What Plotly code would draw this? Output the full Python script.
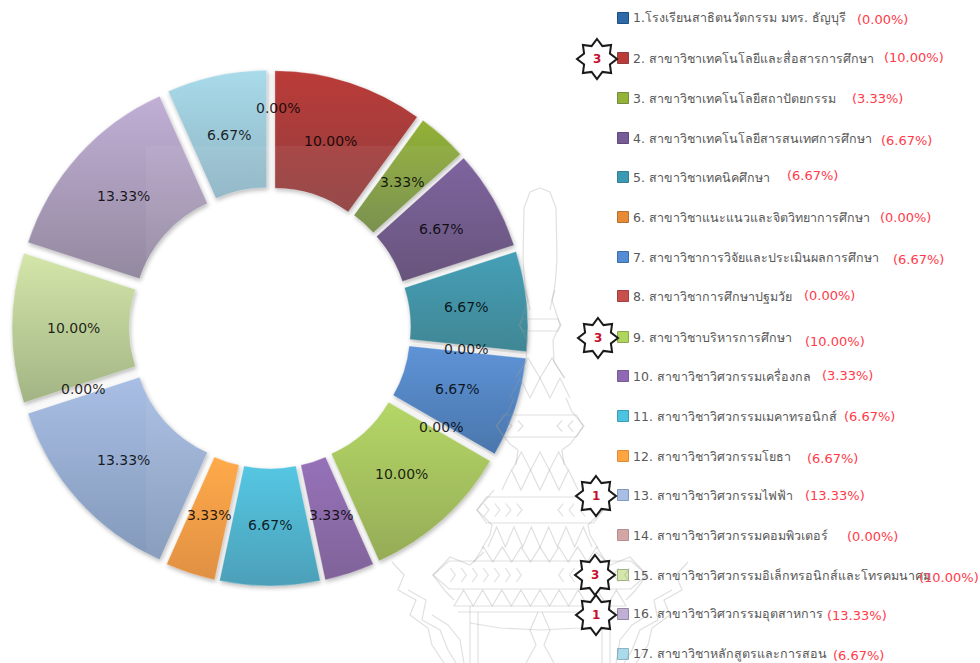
import json, math
import plotly.graph_objects as go

names = ["1.โรงเรียนสาธิตนวัตกรรม มทร. ธัญบุรี", "2. สาขาวิชาเทคโนโลยีและสื่อสารการศึกษา", "3. สาขาวิชาเทคโนโลยีสถาปัตยกรรม",
         "4. สาขาวิชาเทคโนโลยีสารสนเทศการศึกษา", "5. สาขาวิชาเทคนิคศึกษา", "6. สาขาวิชาแนะแนวและจิตวิทยาการศึกษา",
         "7. สาขาวิชาการวิจัยและประเมินผลการศึกษา", "8. สาขาวิชาการศึกษาปฐมวัย", "9. สาขาวิชาบริหารการศึกษา",
         "10. สาขาวิชาวิศวกรรมเครื่องกล", "11. สาขาวิชาวิศวกรรมเมคาทรอนิกส์", "12. สาขาวิชาวิศวกรรมโยธา",
         "13. สาขาวิชาวิศวกรรมไฟฟ้า", "14. สาขาวิชาวิศวกรรมคอมพิวเตอร์", "15. สาขาวิชาวิศวกรรมอิเล็กทรอนิกส์และโทรคมนาคม",
         "16. สาขาวิชาวิศวกรรมอุตสาหการ", "17. สาขาวิชาหลักสูตรและการสอน"]
values = [0.00, 10.00, 3.33, 6.67, 6.67, 0.00, 6.67, 0.00, 10.00, 3.33, 6.67, 3.33, 13.33, 0.00, 10.00, 13.33, 6.67]
legend_pct = ["0.00", "10.00", "3.33", "6.67", "6.67", "0.00", "6.67", "0.00", "10.00", "3.33", "6.67", "6.67", "13.33", "0.00", "10.00", "13.33", "6.67"]
top_colors = ["#2f6aa8", "#bb3b38", "#93b236", "#775b99", "#3a9ab3", "#e88a33", "#548dd5", "#c94f4c", "#b0d55e", "#9069b5", "#4bc4e2", "#ffa53f", "#a9bee4", "#d3a5a5", "#d4e6a9", "#c1afd6", "#a9dbea"]
bot_colors = ["#1f4f80", "#8f3f3f", "#728a45", "#5e4a74", "#357f8e", "#b87030", "#3f6ea7", "#a04040", "#8fa74c", "#795a93", "#419ab4", "#df8a38", "#8299ba", "#b09090", "#a2b484", "#93899f", "#8eb4c4"]
badges = {1: "3", 8: "3", 12: "1", 14: "3", 15: "1"}

# ---------- layout constants (pixels of the 980x663 page) ----------
W, H = 980, 663
row_y = [18, 58, 98, 138, 177, 217, 257, 296, 337, 376, 416, 456, 495, 535, 575, 614, 654]
pct_x = [855, 882, 850, 879, 785, 878, 891, 802, 803, 820, 842, 805, 803, 845, 917, 825, 831]
pct_y = [19, 57, 98, 140, 175, 217, 259, 295, 341, 375, 416, 458, 495, 536, 577, 615, 655]
badge_xy = {1: (597, 59), 8: (598, 338), 12: (596, 496), 14: (595, 575), 15: (596, 615)}
CX, CY, LABEL_R = 270, 328, 197
FONT = "DejaVu Sans, Noto Sans, sans-serif"

fig = go.Figure()

# ---------- watermark (decor) ----------
wm = []
def mirror(pts):
    a = "M" + " L".join(f"{540+x},{y}" for x, y in pts)
    b = "M" + " L".join(f"{540-x},{y}" for x, y in pts)
    return a + " " + b
def triangles(y0, y1, half, n):
    step = 2 * half / n
    p = []
    for i in range(n):
        x = -half + i * step
        p += [(x, y1), (x + step / 2, y0)]
    p.append((half, y1))
    return "M" + " L".join(f"{540+x},{y}" for x, y in p)
def band(y, half, h, circle=True):
    s = [mirror([(half*0.55, y-h), (half*0.85, y-h), (half, y), (half*0.85, y+h), (half*0.55, y+h)])]
    s.append(f"M{540-half*0.55},{y-h} L{540+half*0.55},{y-h} M{540-half*0.55},{y+h} L{540+half*0.55},{y+h}")
    r = h * 0.55
    if circle:
        s.append(f"M{540-r},{y} A{r},{r} 0 1,0 {540+r},{y} A{r},{r} 0 1,0 {540-r},{y}")
    n = int(half // 12)
    for i in range(1, n):
        dx = r + i * 11
        if dx < half * 0.85:
            s.append(mirror([(dx + 5, y - h * 0.5), (dx, y), (dx + 5, y + h * 0.5)]))
    return s
wm.append(mirror([(0, 188), (10, 192), (16, 208), (17, 260), (15, 285), (10, 310)]))
wm.append(mirror([(15, 290), (12, 300), (20, 325), (13, 340), (14, 362), (25, 378)]))
wm += band(325, 21, 6)
wm.append(triangles(358, 378, 24, 2))
wm.append(triangles(378, 398, 30, 3))
wm.append(mirror([(26, 398), (32, 412), (44, 426), (30, 444), (22, 450), (24, 465)]))
wm += band(426, 43, 11)
wm.append(triangles(452, 470, 28, 3))
wm.append(triangles(470, 490, 38, 4))
wm += band(510, 63, 13)
wm.append(mirror([(46, 490), (52, 497), (63, 510), (48, 525), (50, 535), (58, 548)]))
wm.append(triangles(527, 547, 52, 6))
wm.append(triangles(547, 562, 66, 7))
wm += band(575, 107, 14)
wm.append(mirror([(56, 552), (70, 565), (90, 557), (107, 575), (94, 592), (86, 600)]))
wm.append(triangles(590, 606, 86, 9))
wm.append("M454,606 L626,606 M458,612 L622,612")
wm.append(mirror([(70, 623), (40, 628), (0, 630)]))
wm.append(mirror([(70, 606), (70, 663)]))
wm.append(mirror([(62, 612), (62, 663)]))
wm.append(mirror([(2, 612), (10, 630), (4, 645), (14, 663)]))
wm.append(mirror([(148, 562), (136, 575), (142, 590), (124, 600), (130, 615), (112, 628), (108, 645), (96, 663)]))
wm.append(mirror([(132, 590), (114, 600), (118, 620), (100, 630), (92, 650), (84, 663)]))
wm.append(mirror([(108, 615), (92, 625), (80, 640), (76, 663)]))
for d in wm:
    fig.add_shape(type="path", path=d, xref="x", yref="y", layer="above",
                  line=dict(color="rgba(150,150,150,0.3)", width=1.2))
# faint panel edge of the watermark picture
fig.add_shape(type="rect", x0=146, y0=146, x1=600, y1=H, xref="x", yref="y", layer="above",
              fillcolor="rgba(255,255,255,0.06)", line=dict(width=0))

# ---------- doughnut ----------
fig.add_trace(go.Pie(
    values=values, labels=names, sort=False, direction="clockwise", rotation=0,
    hole=0.515, pull=0.066, textinfo="none", showlegend=False,
    marker=dict(colors=top_colors, line=dict(color="rgba(255,255,255,0.3)", width=1)),
    domain=dict(x=[12/W, 528/W], y=[(H-586)/H, (H-70)/H]),
))

# ---------- value labels around the ring, from the values ----------
cum = 0
for i, v in enumerate(values):
    a = math.radians((cum + v / 2) * 3.6)
    cum += v
    lx, ly = CX + LABEL_R * math.sin(a), CY - LABEL_R * math.cos(a)
    sx, sy = (8, 23) if i == 0 else (0, 0)
    fig.add_annotation(x=lx, y=ly, xshift=sx, yshift=sy, text=f"{v:.2f}%", showarrow=False, xref="x", yref="y",
                       font=dict(family=FONT, size=14, color="rgba(0,0,0,0.85)"))

# ---------- hand-made legend ----------
fig.add_trace(go.Scatter(
    x=[623] * len(names), y=row_y, mode="markers", showlegend=False, hoverinfo="skip",
    marker=dict(symbol="square", size=11, color=top_colors, line=dict(color=bot_colors, width=1)),
    xaxis="x", yaxis="y"))
for i, n in enumerate(names):
    fig.add_annotation(x=631, y=row_y[i], text=n, xanchor="left", showarrow=False, xref="x", yref="y",
                       font=dict(family=FONT, size=12.5, color="#595959"))
    fig.add_annotation(x=pct_x[i], y=pct_y[i], text=f"({legend_pct[i]}%)", xanchor="left", showarrow=False, xref="x", yref="y",
                       font=dict(family=FONT, size=13, color="#ff3b4a"))

# ---------- rank badges ----------
for i, t in badges.items():
    bx, by = badge_xy[i]
    pts = []
    for k in range(16):
        r = 20 if k % 2 == 0 else 14
        a = math.radians(k * 22.5)
        pts.append(f"{bx + r*math.sin(a):.1f},{by - r*math.cos(a):.1f}")
    fig.add_shape(type="path", path="M" + " L".join(pts) + " Z", xref="x", yref="y", layer="above",
                  fillcolor="white", line=dict(color="#1a1a1a", width=2))
    fig.add_annotation(x=bx, y=by, text=f"<b>{t}</b>", showarrow=False, xref="x", yref="y",
                       font=dict(family=FONT, size=12, color="#c8102e"))

fig.update_layout(
    width=W, height=H, margin=dict(l=0, r=0, t=0, b=0), paper_bgcolor="white", plot_bgcolor="rgba(0,0,0,0)",
    xaxis=dict(range=[0, W], visible=False, domain=[0, 1], fixedrange=True),
    yaxis=dict(range=[H, 0], visible=False, domain=[0, 1], fixedrange=True),
)

# vertical sheen on each slice, from the same colour lists
post = """
document.body.style.margin = '0';
document.body.style.overflow = 'hidden';
var gd = document.getElementsByClassName('plotly-graph-div')[0];
var top_c = %s, bot_c = %s;
var svg = gd.querySelector('svg.main-svg');
var NS = 'http://www.w3.org/2000/svg';
var defs = document.createElementNS(NS, 'defs');
svg.insertBefore(defs, svg.firstChild);
top_c.forEach(function(c, i) {
  var g = document.createElementNS(NS, 'linearGradient');
  g.setAttribute('id', 'sl' + i); g.setAttribute('x1', '0'); g.setAttribute('y1', '0'); g.setAttribute('x2', '0'); g.setAttribute('y2', '1');
  [[0, c], [1, bot_c[i]]].forEach(function(s) {
    var st = document.createElementNS(NS, 'stop');
    st.setAttribute('offset', s[0]); st.setAttribute('stop-color', s[1]); g.appendChild(st);
  });
  defs.appendChild(g);
});
gd.querySelectorAll('.pielayer .slice').forEach(function(s) {
  var d = s.__data__, p = s.querySelector('path.surface');
  if (!d || !p) return;
  p.style.fill = 'url(#sl' + d.i + ')';
  p.style.filter = 'drop-shadow(1px 2px 2px rgba(0,0,0,0.28))';
});
""" % (json.dumps(top_colors), json.dumps(bot_colors))

fig.write_html("out.html", post_script=post, config={"displayModeBar": False})
